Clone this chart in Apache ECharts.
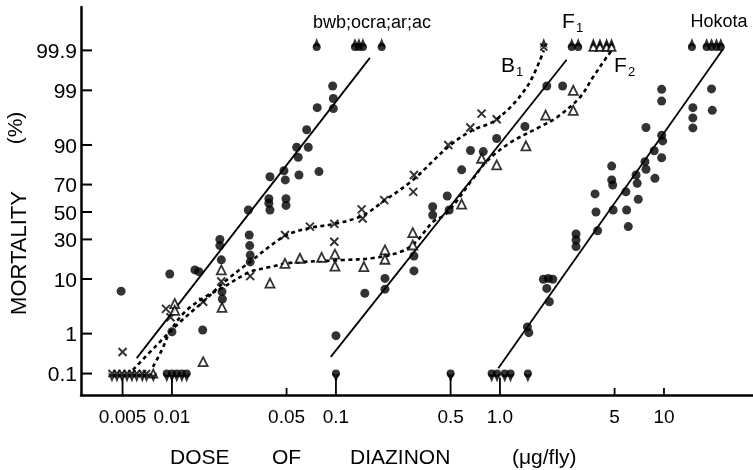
<!DOCTYPE html>
<html><head><meta charset="utf-8">
<script src="https://cdn.jsdelivr.net/npm/echarts@6/dist/echarts.min.js"></script>
<style>html,body{margin:0;padding:0;background:#fff}#c{width:753px;height:470px}</style>
</head><body><div id="c"></div>
<script>
// ---------- tick labels ----------
const xTickVals = [0.005, 0.01, 0.05, 0.1, 0.5, 1.0, 5, 10];
const xTickText = ['0.005', '0.01', '0.05', '0.1', '0.5', '1.0', '5', '10'];
const stemDoses = [0.005, 0.01, 0.1, 0.5, 1.0];
const yTickVals = [0.1, 1, 10, 30, 50, 70, 90, 99, 99.9];
const yTickText = ['0.1', '1', '10', '30', '50', '70', '90', '99', '99.9'];

// ---------- fitted lines [dose, %] ----------
const bwbLine = [[0.0061, 0.26], [0.161, 99.84]];
const f1Line = [[0.093, 0.28], [2.55, 99.82]];
const hokotaLine = [[0.977, 0.14], [23, 99.91]];

// ---------- dashed curves [dose, %] ----------
const b1Curve = [[0.00578,0.126],[0.0081,0.55],[0.0112,1.77],[0.0155,4.3],[0.0205,8.7],[0.0299,17],[0.0489,32.3],[0.0694,38],[0.0972,40.9],[0.144,47],[0.196,58.3],[0.295,73],[0.482,89.3],[0.665,93.9],[0.959,96.2],[1.46,99.16],[1.85,99.9]];
const f2Curve = [[0.00766,0.152],[0.00869,0.42],[0.00972,1.09],[0.012,2.8],[0.0159,5.2],[0.0202,7.3],[0.0299,12.6],[0.0396,14.6],[0.0525,16.5],[0.110,17.9],[0.168,18.9],[0.246,22.2],[0.303,27.7],[0.390,42.4],[0.475,49.2],[0.675,72.9],[0.834,83.5],[1.15,90.7],[1.75,94.8],[2.23,96.5],[3.08,98.6],[3.69,99.5],[4.49,99.85],[4.89,99.91]];

// ---------- observed points [dose, %] ----------
const bwbDots = [[0.0049,6.5],[0.0097,11.8],[0.0138,13.4],[0.0146,12.7],[0.0154,1.2],[0.0100,1.1],[0.0196,30],[0.0196,26],[0.0200,18],[0.0202,6.4],[0.0203,4.8],[0.0292,51.5],[0.0296,33],[0.0298,26],[0.0300,20.5],[0.0300,17],[0.0390,60],[0.0390,56.6],[0.0396,51.5],[0.0396,75],[0.0482,78.5],[0.0491,73],[0.0496,60],[0.0496,55],[0.0576,89.2],[0.0589,85.2],[0.0595,76],[0.0663,94.2],[0.0678,89.2],[0.0769,97.7],[0.0788,78],[0.0955,99.2],[0.0964,98.5],[0.0964,97.6]];
const f1Dots = [[0.100,0.9],[0.150,6],[0.199,10.2],[0.199,7],[0.299,20],[0.299,13],[0.389,54],[0.389,47.7],[0.477,62],[0.490,51.5],[0.584,79],[0.661,88],[0.791,87.6],[0.955,92],[1.42,94.9],[1.93,99.2],[2.41,99.2]];
const hokotaDots = [[9.68,99.05],[9.68,98.3],[19.5,99.07],[19.7,97.4],[15.0,97.7],[15.0,96.4],[15.0,94.6],[7.77,94.7],[9.68,92.9],[9.82,91.3],[8.72,87.9],[9.68,85],[7.66,83.2],[7.77,79.3],[8.81,74],[6.76,76],[6.87,70.8],[4.80,81],[4.80,73],[4.87,69.7],[5.86,65],[6.97,59.6],[3.80,63.5],[3.85,50],[4.90,51.5],[5.92,51.5],[6.06,39],[2.91,33.7],[2.91,29.6],[2.91,25.4],[3.94,36],[1.84,9.9],[1.97,10.2],[2.10,9.9],[1.93,7.2],[2.00,4.3],[1.47,1.4],[1.50,1.05]];
const b1Crosses = [[0.005,0.37],[0.0092,3.2],[0.0098,2.2],[0.0155,4.3],[0.020,9.2],[0.030,11],[0.0489,33],[0.0694,39],[0.0977,41],[0.0977,28.5],[0.1435,52],[0.1455,45],[0.197,59],[0.296,65],[0.299,76],[0.484,90],[0.66,94.7],[0.773,97],[0.955,96.2]];
const f2Triangles = [[0.0104,4],[0.0104,3],[0.0155,0.21],[0.020,13.4],[0.0202,3.4],[0.0396,8.7],[0.0489,16.3],[0.0603,18.8],[0.0818,19.3],[0.0986,21],[0.0986,15],[0.148,14.8],[0.199,23.4],[0.199,18.3],[0.294,34.6],[0.294,26.4],[0.584,56],[0.773,84.8],[0.955,81.6],[1.44,89.7],[1.90,96.8],[2.80,99],[2.80,97.4]];

// ---------- 0 % and 100 % responses (doses) ----------
const zeroCrossDose = [0.00431,0.00462,0.00496,0.00532,0.0057,0.0061,0.0066,0.0070];
const zeroTriDose = [0.0077];
const zeroDotDose = [0.0093,0.0100,0.0107,0.0115,0.0123,0.1,0.5,0.89,0.96,1.07,1.16,1.48];
const fullDotDose = [0.0763,0.1306,0.138,0.146,0.19,2.74,3.0,14.8,18.2,19.5,20.9,22.2];
const fullCrossDose = [1.85];
const fullTriDose = [3.71,4.07,4.47,4.79];
const ZERO_PCT = 0.1, FULL_PCT = 99.92;

// ---------- probit transform for the y axis ----------
function probit(p){
  const a=[-3.969683028665376e+01,2.209460984245205e+02,-2.759285104469687e+02,1.383577518672690e+02,-3.066479806614716e+01,2.506628277459239e+00];
  const b=[-5.447609879822406e+01,1.615858368580409e+02,-1.556989798598866e+02,6.680131188771972e+01,-1.328068155288572e+01];
  const c=[-7.784894002430293e-03,-3.223964580411365e-01,-2.400758277161838e+00,-2.549732539343734e+00,4.374664141464968e+00,2.938163982698783e+00];
  const d=[7.784695709041462e-03,3.224671290700398e-01,2.445134137142996e+00,3.754408661907416e+00];
  const pl=0.02425, ph=1-pl; let q,r;
  if(p<pl){q=Math.sqrt(-2*Math.log(p));return (((((c[0]*q+c[1])*q+c[2])*q+c[3])*q+c[4])*q+c[5])/((((d[0]*q+d[1])*q+d[2])*q+d[3])*q+1);}
  if(p<=ph){q=p-0.5;r=q*q;return (((((a[0]*r+a[1])*r+a[2])*r+a[3])*r+a[4])*r+a[5])*q/(((((b[0]*r+b[1])*r+b[2])*r+b[3])*r+b[4])*r+1);}
  q=Math.sqrt(-2*Math.log(1-p));return -(((((c[0]*q+c[1])*q+c[2])*q+c[3])*q+c[4])*q+c[5])/((((d[0]*q+d[1])*q+d[2])*q+d[3])*q+1);
}
const Z = pct => probit(pct/100);
const tr = arr => arr.map(([x,p]) => [x, Z(p)]);
const atPct = (doses, pct) => doses.map(x => [x, Z(pct)]);

const X_MIN = 0.00279, X_MAX = 34.9, Y_MIN = -3.50, Y_MAX = 3.92;
const FONT = "Liberation Sans, Arial, sans-serif";
const BLACK = '#000';

const crossPath = 'path://M0,0L10,10M10,0L0,10';
const dotStyle = {color: BLACK};
const crossStyle = {color: 'rgba(0,0,0,0)', borderColor: BLACK, borderWidth: 2};
const triStyle = {color: '#fff', borderColor: BLACK, borderWidth: 1.8};

function scatter(data, symbol, size, style, extra) {
  return Object.assign({type:'scatter', data, symbol, symbolSize:size, itemStyle:style, z:4, silent:true}, extra||{});
}
function arrows(doses, pct, up) {
  return {type:'scatter', data: atPct(doses, pct), symbol:'arrow', symbolSize:[6,10],
    symbolRotate: up ? 0 : 180, symbolOffset:[0, up ? -9 : 9], itemStyle:{color:BLACK}, z:4, silent:true};
}

const chart = echarts.init(document.getElementById('c'), null, {renderer:'canvas'});
chart.setOption({
  animation:false,
  backgroundColor:'#fff',
  grid:{left:81, right:0, top:7, bottom:75},
  xAxis:{type:'log', logBase:10, min:X_MIN, max:X_MAX,
    axisLine:{onZero:false, lineStyle:{color:BLACK, width:2.5}},
    axisTick:{show:false}, axisLabel:{show:false}, splitLine:{show:false}},
  yAxis:{type:'value', min:Y_MIN, max:Y_MAX,
    axisLine:{show:true, onZero:false, lineStyle:{color:BLACK, width:2.5}},
    axisTick:{show:false}, axisLabel:{show:false}, splitLine:{show:false}},
  series:[
    {type:'line', data:tr(bwbLine), symbol:'none', lineStyle:{color:BLACK, width:1.8}, z:3, silent:true},
    {type:'line', data:tr(f1Line), symbol:'none', lineStyle:{color:BLACK, width:1.8}, z:3, silent:true},
    {type:'line', data:tr(hokotaLine), symbol:'none', lineStyle:{color:BLACK, width:1.8}, z:3, silent:true},
    {type:'line', data:tr(b1Curve), symbol:'none', smooth:0.35, lineStyle:{color:BLACK, width:2.6, type:[4,3.5]}, z:3, silent:true},
    {type:'line', data:tr(f2Curve), symbol:'none', smooth:0.35, lineStyle:{color:BLACK, width:2.6, type:[4,3.5]}, z:3, silent:true},
    scatter(tr(bwbDots), 'circle', 9, dotStyle),
    scatter(tr(f1Dots), 'circle', 9, dotStyle),
    scatter(tr(hokotaDots), 'circle', 9, dotStyle),
    scatter(tr(b1Crosses), crossPath, 8, crossStyle),
    scatter(tr(f2Triangles), 'triangle', 9, triStyle),
    scatter(atPct(zeroCrossDose, ZERO_PCT), crossPath, 7, crossStyle),
    scatter(atPct(zeroTriDose, ZERO_PCT), 'triangle', 8, triStyle),
    scatter(atPct(zeroDotDose, ZERO_PCT), 'circle', 8, dotStyle),
    arrows(zeroCrossDose, ZERO_PCT, false),
    arrows(zeroTriDose, ZERO_PCT, false),
    arrows(zeroDotDose, ZERO_PCT, false),
    scatter(atPct(fullDotDose, FULL_PCT), 'circle', 8, dotStyle),
    scatter(atPct(fullCrossDose, FULL_PCT), crossPath, 7, crossStyle),
    scatter(atPct(fullTriDose, FULL_PCT), 'triangle', 8, triStyle),
    arrows(fullDotDose, FULL_PCT, true),
    arrows(fullCrossDose, FULL_PCT, true),
    arrows(fullTriDose, FULL_PCT, true),
    // y ticks + labels
    {type:'custom', coordinateSystem:'cartesian2d', clip:false, silent:true, z:5,
      data: yTickVals.map(v => [X_MIN, Z(v)]),
      renderItem:(params, api) => {
        const p = api.coord([api.value(0), api.value(1)]);
        return {type:'group', children:[
          {type:'line', shape:{x1:p[0], y1:p[1], x2:p[0]+11, y2:p[1]}, style:{stroke:BLACK, lineWidth:2}},
          {type:'text', x:p[0]-4, y:p[1]+2, style:{text:yTickText[params.dataIndex], align:'right', verticalAlign:'middle', font:'21px '+FONT, fill:BLACK}}
        ]};
      }},
    // x ticks + labels
    {type:'custom', coordinateSystem:'cartesian2d', clip:false, silent:true, z:5,
      data: xTickVals.map(v => [v, Y_MIN]),
      renderItem:(params, api) => {
        const v = api.value(0);
        const p = api.coord([v, api.value(1)]);
        const top = stemDoses.includes(v) ? api.coord([v, Z(ZERO_PCT)])[1] + 4 : p[1] - 7;
        return {type:'group', children:[
          {type:'line', shape:{x1:p[0], y1:p[1], x2:p[0], y2:top}, style:{stroke:BLACK, lineWidth:1.8}},
          {type:'text', x:p[0], y:p[1]+23, style:{text:xTickText[params.dataIndex], align:'center', verticalAlign:'middle', font:'19px '+FONT, fill:BLACK}}
        ]};
      }}
  ],
  graphic:[
    {type:'text', left:170, top:448, style:{text:'DOSE', font:'21px '+FONT, fill:BLACK}},
    {type:'text', left:272, top:448, style:{text:'OF', font:'21px '+FONT, fill:BLACK}},
    {type:'text', left:350, top:448, style:{text:'DIAZINON', font:'21px '+FONT, fill:BLACK}},
    {type:'text', left:512, top:448, style:{text:'(μg/fly)', font:'21px '+FONT, fill:BLACK}},
    {type:'text', x:20, y:253, rotation:Math.PI/2, style:{text:'MORTALITY', font:'22px '+FONT, fill:BLACK, align:'center', verticalAlign:'middle'}},
    {type:'text', x:16, y:128, rotation:Math.PI/2, style:{text:'(%)', font:'21px '+FONT, fill:BLACK, align:'center', verticalAlign:'middle'}},
    {type:'text', x:372, y:23, style:{text:'bwb;ocra;ar;ac', font:'18px '+FONT, fill:BLACK, align:'center', verticalAlign:'middle'}},
    {type:'text', x:719, y:22, style:{text:'Hokota', font:'18px '+FONT, fill:BLACK, align:'center', verticalAlign:'middle'}},
    {type:'text', x:562, y:22, style:{text:'F', font:'21px '+FONT, fill:BLACK, verticalAlign:'middle'}},
    {type:'text', x:576, y:28, style:{text:'1', font:'13px '+FONT, fill:BLACK, verticalAlign:'middle'}},
    {type:'text', x:501, y:66, style:{text:'B', font:'21px '+FONT, fill:BLACK, verticalAlign:'middle'}},
    {type:'text', x:516, y:72, style:{text:'1', font:'13px '+FONT, fill:BLACK, verticalAlign:'middle'}},
    {type:'text', x:614, y:66, style:{text:'F', font:'21px '+FONT, fill:BLACK, verticalAlign:'middle'}},
    {type:'text', x:628, y:72, style:{text:'2', font:'13px '+FONT, fill:BLACK, verticalAlign:'middle'}}
  ]
});
</script></body></html>
